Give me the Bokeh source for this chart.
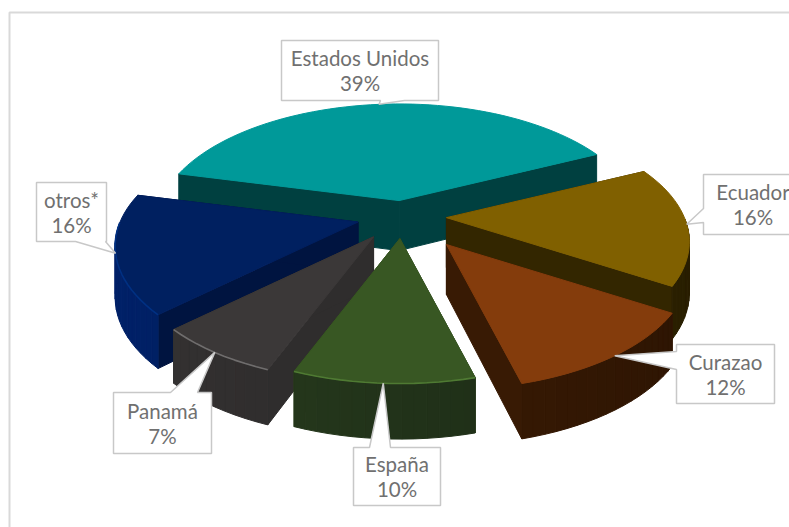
import math
from bokeh.core.properties import value
from bokeh.embed import file_html
from bokeh.models import Range1d
from bokeh.plotting import figure
from bokeh.resources import INLINE

# Slice values, clockwise from the start angle
categories = ["Estados Unidos", "Ecuador", "Curazao", "España", "Panamá", "otros*"]
shares = [39, 16, 12, 10, 7, 16]

# Slice styling
explode = [34, 44, 74, 47, 52, 46]
top_colors = ["#009999", "#806000", "#843c0c", "#385723", "#3b3838", "#002060"]
side_colors = ["#004040", "#332600", "#381a04", "#2c4419", "#2f2d2d", "#001440"]
arc_colors = ["#004040", "#332600", "#381a04", "#22331a", "#2d2b2b", "#001c58"]
rim_colors = [None, None, None, "#4f7a33", "#6f6d6d", "#003082"]
draw_order = [0, 5, 4, 1, 2, 3]

# Label boxes: left, top, right, bottom, the side the leader leaves from and its base
boxes = [
    (281, 40, 438, 100, "bottom", 380, 404),
    (703, 174, 802, 234, "left", 208, 222),
    (676, 344, 774, 403, "left", 351, 369),
    (353, 447, 440, 505, "top", 369, 390),
    (113, 392, 211, 453, "top", 170, 197),
    (36, 182, 106, 241, "bottom", 75, 105),
]

# Projection of the tilted pie
CX, CY = 402, 216
RX, RY = 238, 116
TILT_RATIO = 0.47
PERSPECTIVE = 0.2
DEPTH = 50
START_DEG = 166


def project(t):
    """Rim offset from a slice's apex at angle t (radians)."""
    wx, wy = math.cos(t), math.sin(t)
    s = 1 / (1 + PERSPECTIVE * wy)
    return RX * wx * s, -RY * wy * s


def depth_at(t):
    return DEPTH / (1 + 0.5 * PERSPECTIVE * math.sin(t))


def scale(color, f):
    r, g, b = (int(color[i:i + 2], 16) for i in (1, 3, 5))
    return "#%02x%02x%02x" % tuple(min(255, int(v * f)) for v in (r, g, b))


# Angular span and apex of every slice
spans, apexes = [], []
angle = START_DEG
for share, e in zip(shares, explode):
    end = angle - share * 3.6
    mid = math.radians((angle + end) / 2)
    spans.append((math.radians(angle), math.radians(end)))
    apexes.append((CX + e * math.cos(mid), CY - e * TILT_RATIO * math.sin(mid)))
    angle = end

xs, ys, fills = [], [], []
rim_x, rim_y, rim_c = [], [], []


def add(poly, color):
    xs.append([q[0] for q in poly])
    ys.append([q[1] for q in poly])
    fills.append(color)


for i in draw_order:
    a0, a1 = spans[i]
    ax, ay = apexes[i]
    steps = max(8, int(shares[i] * 1.5))
    ts = [a0 + (a1 - a0) * k / steps for k in range(steps + 1)]
    rim = [(ax + project(t)[0], ay + project(t)[1]) for t in ts]

    # Straight side walls
    for t in (a0, a1):
        px, py = project(t)
        d = depth_at(t)
        add([(ax, ay), (ax + px, ay + py), (ax + px, ay + py + d), (ax, ay + DEPTH)],
            side_colors[i])

    # Outer wall, only where it faces the viewer
    for k in range(steps):
        t, u = ts[k], ts[k + 1]
        if math.sin((t + u) / 2) >= 0:
            continue
        shade = 1.0 - 0.2 * math.cos((t + u) / 2)
        p0, q0 = rim[k], rim[k + 1]
        add([p0, q0, (q0[0], q0[1] + depth_at(u)), (p0[0], p0[1] + depth_at(t))],
            scale(arc_colors[i], shade))

    # Top face
    add([(ax, ay)] + rim, top_colors[i])

    if rim_colors[i]:
        front = [pt for pt, t in zip(rim, ts) if math.sin(t) < 0.02]
        rim_x.append([pt[0] for pt in front])
        rim_y.append([pt[1] for pt in front])
        rim_c.append(rim_colors[i])

p = figure(width=789, height=527, x_range=Range1d(0, 789), y_range=Range1d(527, 0),
           output_backend="svg", toolbar_location=None, min_border=0,
           background_fill_color="white", border_fill_color="white")
p.axis.visible = False
p.grid.visible = False
p.outline_line_color = None

# Chart frame
p.line(x=[9, 9, 789], y=[527, 12, 12], line_color="#d9d9d9", line_width=2)

p.patches(xs, ys, fill_color=fills, line_color=fills, line_width=1.0)
p.multi_line(rim_x, rim_y, line_color=rim_c, line_width=1.6)

# Label callouts with their leaders
for i, (l, t, r, b, side, b0, b1) in enumerate(boxes):
    a0, a1 = spans[i]
    mid = (a0 + a1) / 2
    mx, my = project(mid)
    tip = (apexes[i][0] + mx, apexes[i][1] + my)
    if side == "bottom":
        poly = [(l, t), (r, t), (r, b), (b1, b), tip, (b0, b), (l, b)]
    elif side == "top":
        poly = [(l, t), (b0, t), tip, (b1, t), (r, t), (r, b), (l, b)]
    else:
        poly = [(l, t), (r, t), (r, b), (l, b), (l, b1), tip, (l, b0)]
    p.patch([q[0] for q in poly], [q[1] for q in poly], fill_color="white",
            line_color="#c8c8c8", line_width=1.5)
    cx = (l + r) / 2
    cy = (t + b) / 2
    for line, dy in ((categories[i], -12.5), (f"{shares[i]}%", 12.5)):
        p.text(x=[cx], y=[cy + dy], text=[line], text_font=value("Lato"),
               text_font_size="20.5px", text_color="#707070", text_align="center",
               text_baseline="middle")

open("out.html", "w").write(file_html(p, INLINE))
